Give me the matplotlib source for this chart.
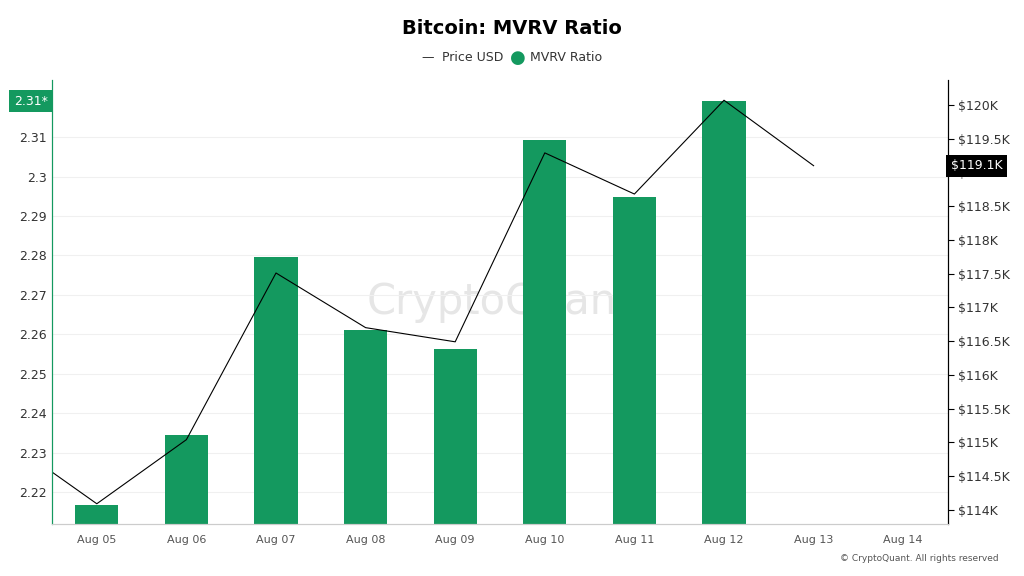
import matplotlib.pyplot as plt

days = ["Aug 04", "Aug 05", "Aug 06", "Aug 07", "Aug 08", "Aug 09", "Aug 10",
        "Aug 11", "Aug 12", "Aug 13", "Aug 14"]
mvrv = [None, 2.2167, 2.2345, 2.2796, 2.2611, 2.2563, 2.3093, 2.2949, 2.3191, None, None]
price = [115.03, 114.09, 115.04, 117.51, 116.70, 116.49, 119.29, 118.68, 120.07, 119.10, None]

green = "#14995f"

fig = plt.figure(figsize=(10.24, 5.76), dpi=100)
ax = fig.add_axes([52/1024, 1-524/576, 896/1024, 444/576])
ax2 = ax.twinx()

xs = list(range(len(days)))
bx = [x for x, v in zip(xs, mvrv) if v is not None]
bv = [v for v in mvrv if v is not None]
ax.bar(bx, bv, width=0.48, color=green, zorder=2)
px = [x for x, v in zip(xs, price) if v is not None]
pv = [v for v in price if v is not None]
ax2.plot(px, pv, color="black", lw=0.8)

ax.set_xlim(0.5, 10.5)
ax.set_ylim(2.2119, 2.3245)
ax.set_xticks(xs[1:])
ax.set_xticklabels(days[1:], fontsize=8, color="#555555")
ax.set_yticks([2.22 + 0.01*i for i in range(10)])
ax.set_yticklabels(["2.22", "2.23", "2.24", "2.25", "2.26", "2.27", "2.28", "2.29", "2.3", "2.31"],
                   fontsize=9, color="#333333")
ax.grid(axis="y", color="#f0f0f0", lw=0.8, zorder=0)
ax.tick_params(length=0)
ax.tick_params(axis="x", pad=8)

ax2.set_ylim(113.79, 120.37)
ax2.set_yticks([114 + 0.5*i for i in range(13)])
ax2.set_yticklabels(["$%gK" % (114 + 0.5*i) for i in range(13)], fontsize=9, color="#333333")
ax2.tick_params(length=4)

for a in (ax, ax2):
    a.spines["top"].set_visible(False)
    a.spines["bottom"].set_color("#cccccc")
    a.spines["left"].set_color(green)
    a.spines["right"].set_color("black")

ax.text(-0.005, 2.3191, "2.31*", transform=ax.get_yaxis_transform(), ha="right", va="center",
        fontsize=9, color="white", bbox=dict(boxstyle="square,pad=0.35", fc=green, ec="none"))
ax2.text(1.003, 119.10, "$119.1K", transform=ax2.get_yaxis_transform(), ha="left", va="center",
         fontsize=9, color="white", bbox=dict(boxstyle="square,pad=0.35", fc="black", ec="none"))

ax.text(0.5, 0.5, "CryptoQuant", transform=ax.transAxes, ha="center", va="center",
        fontsize=30, color="#e6e6e6", zorder=1)

fig.text(0.5, 0.95, "Bitcoin: MVRV Ratio", ha="center", va="center", fontsize=14, fontweight="bold")
fig.text(0.418, 0.9, "—", ha="center", va="center", fontsize=9, color="#333333")
fig.text(0.432, 0.9, "Price USD", ha="left", va="center", fontsize=9, color="#333333")
fig.text(0.506, 0.9, "●", ha="center", va="center", fontsize=13, color=green)
fig.text(0.518, 0.9, "MVRV Ratio", ha="left", va="center", fontsize=9, color="#333333")
fig.text(0.975, 0.03, "© CryptoQuant. All rights reserved", ha="right", va="center",
         fontsize=6.5, color="#555555")

fig.savefig("out.png")
